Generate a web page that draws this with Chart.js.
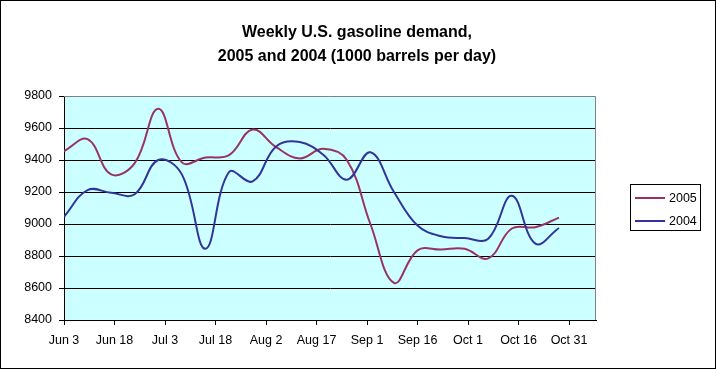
<!DOCTYPE html>
<html>
  <head>
    <meta charset="UTF-8">
    <title>Weekly U.S. gasoline demand</title>
    <script src="https://cdn.jsdelivr.net/npm/chart.js@4"></script>
    <style>
      body { margin: 0; background: #fff; }
    </style>
  </head>
  <body>
    <canvas id='demandChart' width='716' height='369'></canvas>

    <script>
      // days since Jun 3 for each weekly reading
      const weekDays = [0, 7, 14, 21, 28, 35, 42, 49, 56, 63, 70, 77, 84, 91, 98, 105, 112, 119, 126, 133, 140, 147];

      // 1000 barrels per day
      const demand2005 = [9455, 9530, 9310, 9380, 9720, 9385, 9415, 9430, 9590, 9480, 9410, 9470, 9400, 9000, 8632, 8835, 8840, 8845, 8785, 8972, 8980, 9040];
      const demand2004 = [9045, 9212, 9195, 9186, 9400, 9310, 8845, 9325, 9266, 9485, 9512, 9433, 9277, 9448, 9200, 8990, 8923, 8912, 8908, 9176, 8877, 8975];

      const tickDays = [0, 15, 30, 45, 60, 75, 90, 105, 120, 135, 150];
      const tickLabels = ['Jun 3', 'Jun 18', 'Jul 3', 'Jul 18', 'Aug 2', 'Aug 17', 'Sep 1', 'Sep 16', 'Oct 1', 'Oct 16', 'Oct 31'];

      const seriesNames = ['2005', '2004'];
      const seriesColors = ['#993366', '#333399'];

      const titleLines = ['Weekly U.S. gasoline demand,', '2005 and 2004 (1000 barrels per day)'];

      const FONT = '"Liberation Sans", Arial, sans-serif';

      function toPoints(values) {
        return values.map((v, i) => ({ x: weekDays[i], y: v }));
      }

      // plot background, frame, title and legend, drawn the excel way
      const excelLook = {
        id: 'excelLook',
        beforeDraw(chart) {
          const ctx = chart.ctx;
          const a = chart.chartArea;
          ctx.save();
          ctx.fillStyle = '#ccffff';
          ctx.fillRect(a.left, a.top, a.right - a.left, a.bottom - a.top);
          ctx.restore();
        },
        afterDraw(chart) {
          const ctx = chart.ctx;
          const a = chart.chartArea;
          ctx.save();

          // gray top and right edge of the plot
          ctx.strokeStyle = '#808080';
          ctx.lineWidth = 1;
          ctx.beginPath();
          ctx.moveTo(a.left, a.top + 0.5);
          ctx.lineTo(a.right - 0.5, a.top + 0.5);
          ctx.lineTo(a.right - 0.5, a.bottom);
          ctx.stroke();

          // outer border
          ctx.strokeStyle = '#000';
          ctx.strokeRect(0.5, 0.5, chart.width - 1, chart.height - 1);

          // title
          ctx.fillStyle = '#000';
          ctx.font = 'bold 16px ' + FONT;
          ctx.textAlign = 'center';
          ctx.textBaseline = 'alphabetic';
          ctx.fillText(titleLines[0], 357, 37);
          ctx.fillText(titleLines[1], 357, 61);

          // legend
          ctx.strokeRect(630.5, 184.5, 70, 46);
          ctx.font = '12.5px ' + FONT;
          ctx.textAlign = 'left';
          ctx.textBaseline = 'middle';
          const rows = [198, 221];
          seriesNames.forEach((name, i) => {
            ctx.strokeStyle = seriesColors[i];
            ctx.lineWidth = 2;
            ctx.beginPath();
            ctx.moveTo(635, rows[i]);
            ctx.lineTo(665, rows[i]);
            ctx.stroke();
            ctx.fillStyle = '#000';
            ctx.fillText(name, 669, rows[i] + 0.5);
          });

          ctx.restore();
        }
      };

      const ctx = document.getElementById('demandChart').getContext('2d');

      let demandChart = new Chart(ctx, {
        type: 'line',
        data: {
          datasets: [{
            label: seriesNames[0],
            data: toPoints(demand2005),
            borderColor: seriesColors[0],
            order: 1
          }, {
            label: seriesNames[1],
            data: toPoints(demand2004),
            borderColor: seriesColors[1],
            order: 0
          }]
        },
        options: {
          responsive: false,
          animation: false,
          layout: { padding: { left: 0, top: 96, right: 120, bottom: 0 } },
          elements: {
            line: { borderWidth: 2, tension: 0.4, fill: false },
            point: { radius: 0 }
          },
          plugins: {
            legend: { display: false },
            title: { display: false },
            tooltip: { enabled: false }
          },
          scales: {
            x: {
              type: 'linear',
              min: 0,
              max: 158,
              afterBuildTicks(scale) {
                scale.ticks = tickDays.map(d => ({ value: d }));
              },
              afterFit(scale) {
                scale.height = 49;
              },
              ticks: {
                color: '#000',
                padding: 8,
                maxRotation: 0,
                autoSkip: false,
                font: { family: FONT, size: 12.5 },
                callback: (value) => tickLabels[tickDays.indexOf(value)]
              },
              grid: {
                drawOnChartArea: false,
                drawTicks: true,
                tickLength: 5,
                tickColor: '#000'
              },
              border: { color: '#000', width: 1 }
            },
            y: {
              min: 8400,
              max: 9800,
              afterFit(scale) {
                scale.width = 64;
              },
              ticks: {
                stepSize: 200,
                color: '#000',
                padding: 7,
                font: { family: FONT, size: 12.5 },
                callback: (value) => String(value)
              },
              grid: {
                color: (c) => (c.tick && c.tick.value === 9800) ? 'rgba(0,0,0,0)' : '#000',
                tickColor: '#000',
                tickLength: 5,
                lineWidth: 1
              },
              border: { color: '#000', width: 1 }
            }
          }
        },
        plugins: [excelLook]
      });
    </script>
  </body>
</html>
